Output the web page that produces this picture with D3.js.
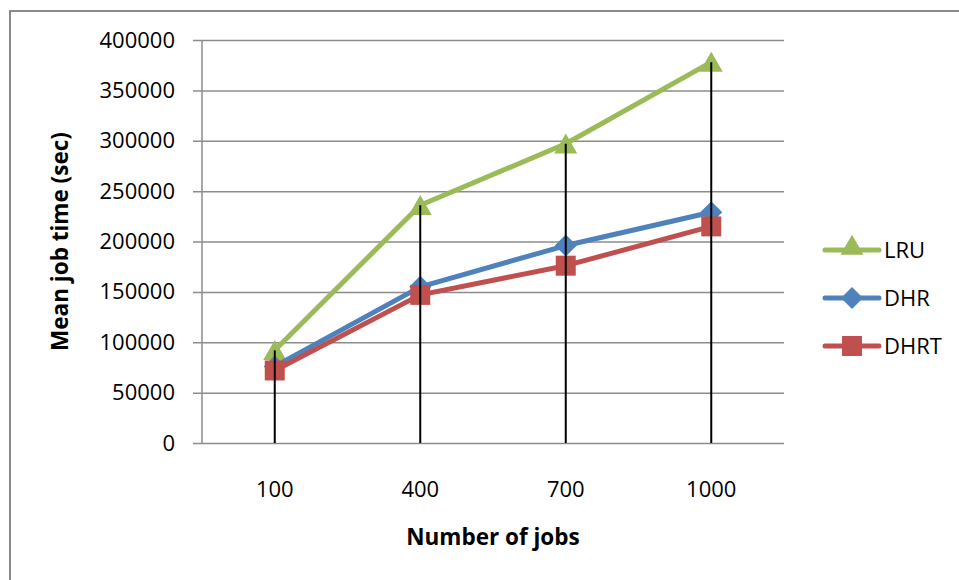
<!DOCTYPE html>
<html>
<head>
<meta charset="utf-8">
<script src="https://cdn.jsdelivr.net/npm/d3@7"></script>
<style>
  html, body { margin: 0; padding: 0; background: #fff; }
  svg { display: block; font-family: "Open Sans", "DejaVu Sans", sans-serif; }
</style>
</head>
<body>
<svg id="chart" width="959" height="580"></svg>
<script>
// Job counts on the x axis
const categories = ["100", "400", "700", "1000"];
// Mean job time (sec) per policy
const seriesNames = ["LRU", "DHR", "DHRT"];
const lruValues  = [92000, 236000, 297000, 378000];
const dhrValues  = [76000, 155000, 196000, 229000];
const dhrtValues = [72000, 147000, 176000, 215000];
const yTicks = [0, 50000, 100000, 150000, 200000, 250000, 300000, 350000, 400000];

const colors = { LRU: "#9BBB59", DHR: "#4F81BD", DHRT: "#C0504D" };
const series = [
  { name: "LRU",  values: lruValues,  marker: "triangle" },
  { name: "DHR",  values: dhrValues,  marker: "diamond" },
  { name: "DHRT", values: dhrtValues, marker: "square" }
];

const svg = d3.select("#chart");
const plot = { left: 202, right: 784, top: 40, bottom: 443 };

const x = d3.scaleBand().domain(categories).range([plot.left, plot.right]);
const y = d3.scaleLinear().domain([0, 400000]).range([plot.bottom, plot.top]);
const cx = c => x(c) + x.bandwidth() / 2;

// Outer chart frame
svg.append("rect")
  .attr("x", 10).attr("y", 11).attr("width", 1000).attr("height", 1000)
  .attr("fill", "none").attr("stroke", "#8a8a8a").attr("stroke-width", 2);

// Horizontal gridlines with short ticks left of the axis
const yAxis = d3.axisLeft(y).tickValues(yTicks).tickFormat(d3.format("d"))
  .tickSize(-(plot.right - plot.left)).tickSizeOuter(0);
const gy = svg.append("g").attr("transform", `translate(${plot.left},0)`).call(yAxis);
gy.select(".domain").remove();
gy.selectAll(".tick line").attr("stroke", "#8c8c8c").attr("stroke-width", 1.5).attr("x1", -9);
gy.selectAll(".tick text").attr("font-size", 22).attr("fill", "#000")
  .attr("font-family", "'Open Sans', sans-serif").attr("x", -27);

// Vertical axis line
svg.append("line")
  .attr("x1", plot.left).attr("x2", plot.left).attr("y1", plot.top).attr("y2", plot.bottom)
  .attr("stroke", "#8c8c8c").attr("stroke-width", 1.5);

// Category labels
const xAxis = d3.axisBottom(x).tickSize(0).tickPadding(38);
const gx = svg.append("g").attr("transform", `translate(0,${plot.bottom})`).call(xAxis);
gx.select(".domain").remove();
gx.selectAll(".tick text").attr("font-size", 22).attr("fill", "#000")
  .attr("font-family", "'Open Sans', sans-serif");

// Series lines and markers
const line = d3.line().x((d, i) => cx(categories[i])).y(d => y(d));
const markerPath = {
  triangle: d3.symbol().type(d3.symbolTriangle).size(230)(),
  diamond: "M0,-11L11,0L0,11L-11,0Z",
  square: "M-10,-10H10V10H-10Z"
};

series.forEach(s => {
  const g = svg.append("g");
  g.append("path").datum(s.values)
    .attr("d", line).attr("fill", "none")
    .attr("stroke", colors[s.name]).attr("stroke-width", 5)
    .attr("stroke-linejoin", "round");
  g.selectAll("path.m").data(s.values).join("path").attr("class", "m")
    .attr("d", markerPath[s.marker])
    .attr("transform", (d, i) => `translate(${cx(categories[i])},${y(d) + (s.marker === "triangle" ? 3 : 0)})`)
    .attr("fill", colors[s.name]);
});

// Drop lines from the highest point down to the category axis
const highs = categories.map((c, i) => d3.max(series, s => s.values[i]));
svg.append("g").selectAll("line").data(highs).join("line")
  .attr("x1", (d, i) => cx(categories[i])).attr("x2", (d, i) => cx(categories[i]))
  .attr("y1", d => y(d)).attr("y2", plot.bottom)
  .attr("stroke", "#000").attr("stroke-width", 2);

// Axis titles
svg.append("text")
  .attr("transform", `translate(68,${(plot.top + plot.bottom) / 2}) rotate(-90)`)
  .attr("text-anchor", "middle").attr("font-size", 22.5).attr("font-weight", "bold")
  .text("Mean job time (sec)");
svg.append("text")
  .attr("x", (plot.left + plot.right) / 2).attr("y", 545)
  .attr("text-anchor", "middle").attr("font-size", 22.5).attr("font-weight", "bold")
  .text("Number of jobs");

// Legend
const legend = svg.append("g");
seriesNames.forEach((name, i) => {
  const s = series.find(d => d.name === name);
  const ly = 250 + i * 48;
  legend.append("line").attr("x1", 825).attr("x2", 879).attr("y1", ly).attr("y2", ly)
    .attr("stroke", colors[name]).attr("stroke-width", 5).attr("stroke-linecap", "round");
  legend.append("path").attr("d", markerPath[s.marker])
    .attr("transform", `translate(852,${ly + (s.marker === "triangle" ? -2 : 0)})`)
    .attr("fill", colors[name]);
  legend.append("text").attr("x", 884).attr("y", ly + 8)
    .attr("font-size", 22).text(name);
});
</script>
</body>
</html>
